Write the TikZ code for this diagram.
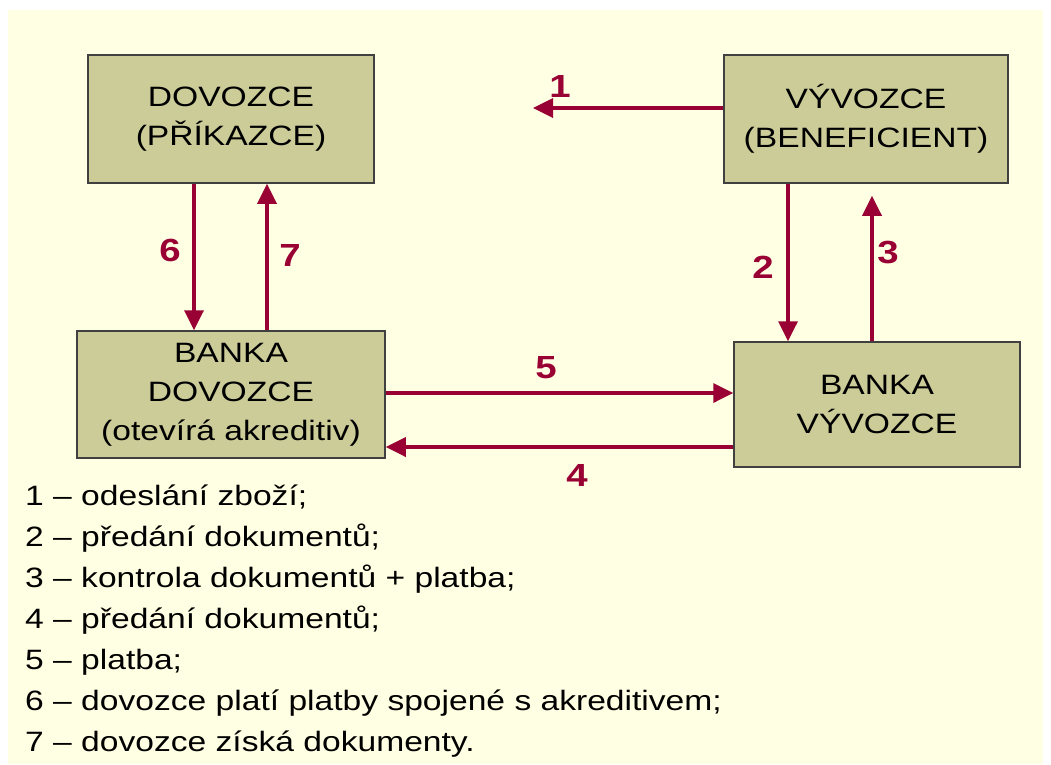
\documentclass[tikz,border=0pt]{standalone}
\usepackage{fontspec}
\setmainfont{Liberation Sans}[FakeStretch=1.2]
\usetikzlibrary{arrows.meta}
\definecolor{paper}{RGB}{255,255,227}
\definecolor{boxfill}{RGB}{204,204,153}
\definecolor{boxline}{RGB}{64,64,64}
\definecolor{flow}{RGB}{153,0,51}
\begin{document}
\begin{tikzpicture}[x=1pt,y=-1pt,
  party/.style={draw=boxline,line width=1.5pt,fill=boxfill,align=center,
    inner sep=0pt,font=\fontsize{28}{39}\selectfont},
  flowarrow/.style={draw=flow,line width=3.5pt,
    -{Triangle[length=20pt,width=19pt]}},
  steplabel/.style={text=flow,inner sep=0pt,font=\fontsize{32}{36}\selectfont\bfseries},
  legend/.style={anchor=base west,inner sep=0pt,font=\fontsize{28}{39}\selectfont}]
\useasboundingbox (0,0) rectangle (1051,764);
\fill[white] (0,0) rectangle (1051,764);
\fill[paper] (8,10) rectangle (1043,764);

% the four parties
\node[party,minimum width=286pt,minimum height=128pt] (imp) at (231,119)
  {DOVOZCE\\(PŘÍKAZCE)};
\node[party,minimum width=284pt,minimum height=128pt] (exp) at (866,119)
  {VÝVOZCE\\(BENEFICIENT)};
\node[party,minimum width=308pt,minimum height=127pt] (bimp) at (231,394.5)
  {BANKA\\DOVOZCE\\(otevírá akreditiv)};
\node[party,minimum width=286pt,minimum height=125pt] (bexp) at (877,404.5)
  {BANKA\\VÝVOZCE};

% guide points for the flows
\coordinate (e1) at (533,108);
\coordinate (c2) at (788,0);
\coordinate (c3) at (872,0);
\coordinate (r5) at (0,393);
\coordinate (r4) at (0,447);

% flows
\draw[flowarrow] (exp.west |- e1) -- (e1);
\draw[flowarrow] (exp.south -| c2) -- (bexp.north -| c2);
\draw[flowarrow] (bexp.north -| c3) -- ([yshift=-12pt]exp.south -| c3);
\draw[flowarrow] (bexp.west |- r4) -- (bimp.east |- r4);
\draw[flowarrow] (bimp.east |- r5) -- (bexp.west |- r5);
\draw[flowarrow] ([xshift=-37pt]imp.south) -- ([xshift=-37pt]bimp.north);
\draw[flowarrow] ([xshift=36pt]bimp.north) -- ([xshift=36pt]imp.south);

% step numbers
\node[steplabel] (n1) at (560,86) {1};
\node[steplabel] (n2) at (763,267) {2};
\node[steplabel] (n3) at (888,252) {3};
\node[steplabel] (n4) at (577,475) {4};
\node[steplabel] (n5) at (546,368) {5};
\node[steplabel] (n6) at (170,250) {6};
\node[steplabel] (n7) at (290,255) {7};

% legend
\node[legend] (l1) at (25,505) {1 – odeslání zboží;};
\node[legend] (l2) at (25,546) {2 – předání dokumentů;};
\node[legend] (l3) at (25,587) {3 – kontrola dokumentů + platba;};
\node[legend] (l4) at (25,628) {4 – předání dokumentů;};
\node[legend] (l5) at (25,669) {5 – platba;};
\node[legend] (l6) at (25,710) {6 – dovozce platí platby spojené s akreditivem;};
\node[legend] (l7) at (25,751) {7 – dovozce získá dokumenty.};
\end{tikzpicture}
\end{document}
